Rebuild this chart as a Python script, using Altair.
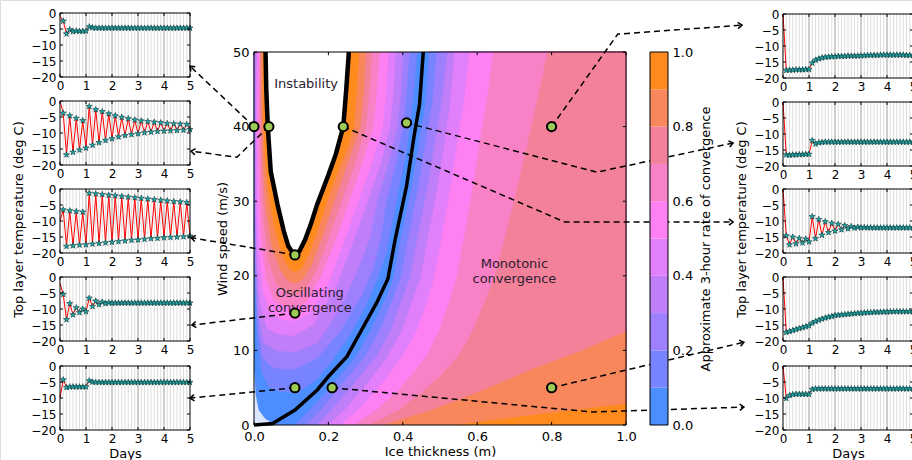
import math
import altair as alt
import pandas as pd

W, H = 912, 460
FONT = "DejaVu Sans"
STAR = ("M0,-1L0.235,-0.324L0.951,-0.309L0.38,0.124L0.588,0.809L0,0.4L-0.588,0.809"
        "L-0.38,0.124L-0.951,-0.309L-0.235,-0.324Z")
TICK_UP, TICK_DOWN, TICK_RIGHT, TICK_LEFT = "M0,0L0,-1", "M0,0L0,1", "M0,0L1,0", "M0,0L-1,0"

# ---------------- time-series data (3-hourly, 5 days) ----------------
days = [i * 0.125 for i in range(41)]
grid_days = [i * 0.125 for i in range(1, 40)]
day_lines = [1, 2, 3, 4]
day_ticks = [0, 1, 2, 3, 4, 5]
temp_ticks = [0, -5, -10, -15, -20]

L1 = [-1.0, -2.5, -6.5, -5.2, -5.8, -5.6, -5.7, -5.7, -5.6, -4.3, -4.6,
      -4.7, -4.7, -4.7, -4.7, -4.7, -4.7, -4.7, -4.7, -4.7, -4.7,
      -4.7, -4.7, -4.7, -4.7, -4.7, -4.7, -4.7, -4.7, -4.7, -4.7,
      -4.7, -4.7, -4.7, -4.7, -4.7, -4.7, -4.7, -4.7, -4.7, -4.7]
L2 = [0.0, -3.8, -16.8, -4.6, -16.0, -5.4, -15.3, -6.1, -14.7,
      -1.7, -13.8, -2.7, -13.0, -3.3, -12.3, -4.0, -11.8,
      -4.6, -11.2, -5.1, -10.8, -5.5, -10.5, -5.9, -10.2,
      -6.2, -9.9, -6.4, -9.7, -6.6, -9.5, -6.8, -9.4,
      -7.0, -9.3, -7.1, -9.2, -7.2, -9.1, -7.3, -8.9]
L3 = [-10.0, -6.5, -17.9, -6.8, -17.7, -7.0, -17.5, -7.2, -17.4,
      -1.3, -17.2, -1.5, -17.0, -1.7, -16.8, -1.9, -16.6,
      -2.1, -16.4, -2.3, -16.2, -2.5, -16.0, -2.7, -15.9,
      -2.9, -15.7, -3.1, -15.5, -3.3, -15.4, -3.5, -15.2,
      -3.7, -15.1, -3.9, -15.0, -4.0, -14.9, -4.2, -14.7]
L4 = [-2.0, -5.4, -13.3, -8.3, -11.8, -9.6, -11.1, -10.0, -10.8,
      -6.6, -9.2, -7.5, -8.6, -7.8, -8.3, -8.0, -8.2,
      -8.1, -8.1, -8.1, -8.1, -8.1, -8.1, -8.1, -8.1,
      -8.1, -8.1, -8.1, -8.1, -8.1, -8.1, -8.1, -8.1,
      -8.1, -8.1, -8.1, -8.1, -8.1, -8.1, -8.1, -8.1]
L5 = [-10.0, -4.3, -6.7, -6.5, -6.5, -6.5, -6.5, -6.5, -6.5,
      -4.6, -5.0, -5.1, -5.1, -5.1, -5.1, -5.1, -5.1,
      -5.1, -5.1, -5.1, -5.1, -5.1, -5.1, -5.1, -5.1,
      -5.1, -5.1, -5.1, -5.1, -5.1, -5.1, -5.1, -5.1,
      -5.1, -5.1, -5.1, -5.1, -5.1, -5.1, -5.1, -5.1]
R1 = [0.0, -17.6, -17.5, -17.5, -17.4, -17.4, -17.4, -17.3, -17.3,
      -15.3, -14.4, -14.0, -13.7, -13.5, -13.4, -13.3, -13.3,
      -13.2, -13.2, -13.2, -13.1, -13.1, -13.1, -13.1, -13.0,
      -13.0, -12.9, -12.9, -12.9, -12.9, -12.8, -12.8, -12.8,
      -12.8, -12.8, -12.8, -12.8, -12.8, -12.9, -12.9, -12.9]
R2 = [0.0, -16.5, -16.6, -16.5, -16.5, -16.4, -16.4, -16.3, -16.3,
      -12.0, -13.1, -12.7, -12.6, -12.5, -12.5, -12.5, -12.5,
      -12.5, -12.5, -12.5, -12.5, -12.5, -12.5, -12.5, -12.5,
      -12.5, -12.5, -12.5, -12.5, -12.5, -12.5, -12.5, -12.5,
      -12.5, -12.5, -12.5, -12.5, -12.5, -12.5, -12.5, -12.5]
R3 = [0.0, -14.6, -17.4, -15.0, -17.1, -15.4, -16.8, -15.6, -16.5,
      -8.6, -15.5, -9.5, -14.4, -10.2, -13.6, -10.7, -13.1,
      -11.0, -12.7, -11.4, -12.4, -11.7, -12.2, -11.9, -12.1,
      -12.0, -12.1, -12.1, -12.1, -12.1, -12.1, -12.1, -12.1,
      -12.1, -12.1, -12.1, -12.1, -12.1, -12.1, -12.1, -12.1]
R4 = [0.0, -17.3, -17.0, -16.7, -16.4, -16.1, -15.8, -15.5, -15.2,
      -14.4, -13.9, -13.5, -13.1, -12.8, -12.5, -12.3, -12.0,
      -11.9, -11.8, -11.7, -11.6, -11.5, -11.4, -11.3, -11.25,
      -11.2, -11.1, -11.1, -11.0, -11.0, -10.95, -10.9, -10.9,
      -10.85, -10.8, -10.8, -10.8, -10.8, -10.8, -10.8, -10.8]
R5 = [0.0, -10.1, -9.2, -8.9, -8.8, -8.8, -8.8, -8.8, -8.8,
      -7.3, -7.1, -7.1, -7.1, -7.1, -7.1, -7.1, -7.1,
      -7.1, -7.1, -7.1, -7.1, -7.1, -7.1, -7.1, -7.1,
      -7.1, -7.1, -7.1, -7.1, -7.1, -7.1, -7.1, -7.1,
      -7.1, -7.1, -7.1, -7.1, -7.1, -7.1, -7.1, -7.1]

# ---------------- convergence-rate map (contours) ----------------
band_lo = [0.0, 0.1, 0.2, 0.3, 0.4, 0.5, 0.6, 0.7, 0.8, 0.9]
band_colors = ["#4c8dff", "#7884ff", "#9e80ff", "#c07ef8", "#e27ffa",
               "#ff80f2", "#f981c6", "#f4819a", "#f8875c", "#ff8b1e"]
thick_ticks = [0, 0.2, 0.4, 0.6, 0.8, 1.0]
wind_ticks = [0, 10, 20, 30, 40, 50]

zero_curve = [(0.0, 0.0), (0.05, 0.2), (0.11, 2.0), (0.17, 4.7), (0.20, 6.5), (0.25, 9.2),
              (0.29, 12.8), (0.33, 16.4), (0.36, 19.6), (0.38, 25.0), (0.41, 32.0),
              (0.43, 38.6), (0.445, 43.0), (0.455, 50.0)]
instab_curve = [(0.031, 50), (0.033, 45), (0.037, 40), (0.045, 34), (0.063, 29.6), (0.08, 26),
                (0.092, 24), (0.108, 22.8), (0.122, 23.3), (0.137, 24.8), (0.152, 26.8),
                (0.17, 29.6), (0.20, 33.5), (0.22, 36.3), (0.24, 40), (0.248, 45), (0.255, 50)]
speckle = [(0.0, 0.0), (0.0, 7.0), (0.004, 4.0), (0.012, 2.0), (0.03, 0.8), (0.05, 0.2), (0.05, 0.0)]

osc = {
    1: [(0.0, 50), (0.0, 26), (0.004, 18), (0.01, 11), (0.022, 7), (0.04, 5.2), (0.07, 4.5),
        (0.1, 4.4), (0.13, 4.8), (0.17, 6.2), (0.215, 9), (0.26, 12.3), (0.3, 16), (0.33, 19.5),
        (0.355, 23), (0.375, 28), (0.39, 32), (0.41, 37), (0.42, 41), (0.43, 45), (0.437, 50)],
    2: [(0.0, 50), (0.0, 38), (0.002, 30), (0.005, 20), (0.012, 13), (0.025, 9), (0.05, 7.7),
        (0.08, 7.5), (0.11, 7.5), (0.17, 9), (0.23, 12.5), (0.29, 17.5), (0.32, 21), (0.34, 25),
        (0.355, 30), (0.38, 35), (0.40, 40), (0.41, 45), (0.417, 50)],
    3: [(0.0, 50), (0.0, 47), (0.004, 40), (0.004, 30), (0.006, 22), (0.012, 15), (0.027, 11),
        (0.06, 10), (0.11, 9.8), (0.17, 11), (0.23, 15.5), (0.28, 21), (0.31, 25), (0.33, 30),
        (0.36, 35), (0.385, 40), (0.395, 45), (0.40, 50)],
    4: [(0.008, 50), (0.006, 40), (0.006, 30), (0.009, 22), (0.018, 16), (0.035, 13), (0.065, 12.2),
        (0.11, 12), (0.16, 13.5), (0.22, 18.5), (0.265, 24.5), (0.305, 30), (0.34, 35), (0.365, 40),
        (0.375, 45), (0.38, 50)],
    5: [(0.011, 50), (0.009, 40), (0.01, 31), (0.014, 24), (0.025, 18), (0.045, 15), (0.075, 14.2),
        (0.11, 14), (0.15, 15), (0.2, 19), (0.24, 24.5), (0.28, 30), (0.315, 35), (0.345, 40),
        (0.355, 45), (0.36, 50)],
    6: [(0.014, 50), (0.013, 40), (0.015, 32), (0.02, 25), (0.033, 19.5), (0.055, 16.6), (0.08, 16),
        (0.11, 15.8), (0.14, 16.5), (0.18, 20), (0.22, 25), (0.255, 30), (0.29, 35), (0.32, 40),
        (0.33, 45), (0.337, 50)],
    7: [(0.017, 50), (0.017, 42), (0.02, 34), (0.027, 27), (0.04, 22), (0.06, 19), (0.085, 17.8),
        (0.11, 17.5), (0.135, 18), (0.165, 20.5), (0.2, 25), (0.235, 30), (0.27, 35), (0.3, 40),
        (0.31, 45), (0.317, 50)],
    8: [(0.02, 50), (0.021, 42), (0.025, 35), (0.033, 29), (0.048, 24), (0.07, 21), (0.09, 19.4),
        (0.11, 19), (0.13, 19.5), (0.155, 21.5), (0.185, 25.5), (0.215, 30), (0.25, 35),
        (0.285, 40), (0.295, 45), (0.30, 50)],
    9: [(0.024, 50), (0.025, 42), (0.03, 36), (0.04, 31), (0.055, 26.5), (0.075, 23), (0.095, 21),
        (0.11, 20.5), (0.128, 21), (0.148, 23), (0.17, 26), (0.196, 30), (0.225, 34), (0.25, 37),
        (0.268, 40), (0.276, 45), (0.282, 50)],
}
mono = {
    1: [(0.11, 0), (0.15, 2), (0.2, 4.7), (0.23, 6.5), (0.275, 9.2), (0.315, 12.8), (0.35, 16.4),
        (0.375, 19.6), (0.395, 25), (0.425, 32), (0.447, 38.6), (0.462, 43), (0.472, 50)],
    2: [(0.14, 0), (0.18, 2), (0.225, 4.7), (0.255, 6.5), (0.3, 9.2), (0.34, 12.8), (0.37, 16.4),
        (0.395, 19.6), (0.415, 25), (0.443, 32), (0.465, 38.6), (0.48, 43), (0.492, 50)],
    3: [(0.17, 0), (0.21, 2), (0.255, 4.7), (0.285, 6.5), (0.33, 9.2), (0.37, 12.8), (0.395, 16.4),
        (0.42, 19.6), (0.44, 25), (0.468, 32), (0.49, 38.6), (0.505, 43), (0.52, 50)],
    4: [(0.2, 0), (0.245, 2), (0.29, 4.7), (0.32, 6.5), (0.36, 9.2), (0.4, 12.8), (0.425, 16.4),
        (0.448, 19.6), (0.468, 25), (0.495, 32), (0.515, 38.6), (0.528, 43), (0.54, 50)],
    5: [(0.235, 0), (0.28, 2), (0.33, 4.7), (0.36, 6.5), (0.40, 9.2), (0.44, 12.8), (0.465, 16.4),
        (0.485, 19.6), (0.505, 25), (0.53, 32), (0.55, 38.6), (0.565, 43), (0.58, 50)],
    6: [(0.27, 0), (0.33, 2), (0.39, 4.7), (0.42, 6.5), (0.465, 9.2), (0.5, 12.8), (0.525, 16.4),
        (0.545, 19.6), (0.565, 25), (0.59, 32), (0.61, 38.6), (0.625, 43), (0.645, 50)],
    7: [(0.31, 0), (0.39, 2), (0.46, 4.7), (0.5, 6.5), (0.55, 9.2), (0.59, 12.8), (0.62, 16.4),
        (0.645, 19.6), (0.675, 25), (0.71, 32), (0.74, 38.6), (0.76, 43), (0.79, 50)],
    8: [(0.35, 0), (0.48, 2), (0.62, 4.7), (0.75, 7.5), (0.87, 9.7), (1.0, 12.5)],
    9: [(0.55, 0), (0.75, 1.3), (1.0, 2.8)],
}

# sample points and the dashed connectors to the side panels
pt_h = [0.0, 0.04, 0.24, 0.41, 0.80, 0.11, 0.11, 0.11, 0.21, 0.80]
pt_u = [40.0, 40.0, 40.0, 40.5, 40.0, 22.8, 15.0, 5.0, 5.0, 5.0]
arrows = [
    [(0.0, 40.0), (-0.172, 48.1)],
    [(0.04, 40.0), (-0.046, 35.9), (-0.169, 36.7)],
    [(0.11, 22.8), (-0.169, 25.1)],
    [(0.11, 15.0), (-0.167, 13.4)],
    [(0.11, 5.0), (-0.172, 3.6)],
    [(0.8, 40.0), (0.978, 52.4), (1.312, 53.6)],
    [(0.41, 40.5), (0.922, 33.9), (1.288, 37.8)],
    [(0.24, 40.0), (0.836, 27.2), (1.288, 27.2)],
    [(0.8, 5.0), (1.317, 11.1)],
    [(0.21, 5.0), (0.909, 1.74), (1.317, 2.4)],
]

# ---------------- layout (pixel ranges of each panel) ----------------
LX = [60, 190]
RX = [783, 913]
LTOP = [13, 101, 189, 277, 366]
RTOP = [14, 102, 189, 277, 366]
PH = 64
CX = [254, 626]
CY = [425, 52]
BX = [650, 668]

AX_COMMON = dict(grid=False, domain=False, ticks=False, tickSize=0, labelFont=FONT,
                 labelColor="black", labelFlush=False, labelOverlap=False)
TITLE_COMMON = dict(titleFont=FONT, titleFontWeight="normal", titleColor="black",
                    titleFontSize=13, titleAlign="center", titleBaseline="middle")


def enc(xf, yf, xs, ys, xa, ya, **extra):
    return dict(x=alt.X(xf, scale=xs, axis=xa), y=alt.Y(yf, scale=ys, axis=ya), **extra)


def tick_layers(xs, ys, xa, ya, xvals, yvals, xlo, xhi, ylo, yhi, size):
    out = []
    specs = [
        (pd.DataFrame({"p": xvals, "q": ylo}), TICK_UP),
        (pd.DataFrame({"p": xvals, "q": yhi}), TICK_DOWN),
        (pd.DataFrame({"p": xlo, "q": yvals}), TICK_RIGHT),
        (pd.DataFrame({"p": xhi, "q": yvals}), TICK_LEFT),
    ]
    for df, shp in specs:
        out.append(alt.Chart(df).mark_point(shape=shp, filled=False, stroke="black",
                                            strokeWidth=1, size=size, opacity=1).encode(
            **enc("p:Q", "q:Q", xs, ys, xa, ya)))
    return out


def ts_panel(vals, xr, top, ytitle, xtitle):
    bottom = top + PH
    xs = alt.Scale(domain=[0, 5], range=xr, nice=False, zero=False)
    ys = alt.Scale(domain=[-20, 0], range=[bottom, top], nice=False, zero=False)
    xkw = dict(orient="bottom", offset=bottom - H, values=day_ticks, labelPadding=3,
               labelFontSize=12, **AX_COMMON)
    if xtitle:
        xkw.update(title=xtitle, titleX=(xr[0] + xr[1]) / 2, titleY=23, **TITLE_COMMON)
    else:
        xkw.update(title="")
    ykw = dict(orient="left", offset=-xr[0], values=temp_ticks, labelPadding=4,
               labelFontSize=12, **AX_COMMON)
    if ytitle:
        ykw.update(title=ytitle, titleX=-42, titleY=219, titleAngle=270, **TITLE_COMMON)
    else:
        ykw.update(title="")
    xa, ya = alt.Axis(**xkw), alt.Axis(**ykw)
    df = pd.DataFrame({"t": days, "T": vals})
    grid = alt.Chart(pd.DataFrame({"g": grid_days, "lo": -20.0, "hi": 0.0})).mark_rule(
        color="#d6d6d6", strokeWidth=0.8).encode(**enc("g:Q", "lo:Q", xs, ys, xa, ya, y2="hi:Q"))
    major = alt.Chart(pd.DataFrame({"g": day_lines, "lo": -20.0, "hi": 0.0})).mark_rule(
        color="#a0a0a0", strokeWidth=0.8).encode(**enc("g:Q", "lo:Q", xs, ys, xa, ya, y2="hi:Q"))
    line = alt.Chart(df).mark_line(color="#ff0000", strokeWidth=1).encode(
        **enc("t:Q", "T:Q", xs, ys, xa, ya))
    pts = alt.Chart(df.iloc[1:].reset_index(drop=True)).mark_point(
        shape=STAR, filled=True, fill="#1fa9a9", stroke="#053535", strokeWidth=0.6, size=40,
        opacity=1).encode(**enc("t:Q", "T:Q", xs, ys, xa, ya))
    frame = alt.Chart(pd.DataFrame({"a": [0.0], "b": [5.0], "c": [-20.0], "d": [0.0]})).mark_rect(
        fill="transparent", stroke="black", strokeWidth=1).encode(
        **enc("a:Q", "c:Q", xs, ys, xa, ya, x2="b:Q", y2="d:Q"))
    ticks = tick_layers(xs, ys, xa, ya, day_ticks, temp_ticks, 0.0, 5.0, -20.0, 0.0, 36)
    return alt.layer(grid, major, line, pts, frame, *ticks)


panels = []
left_vals = [L1, L2, L3, L4, L5]
right_vals = [R1, R2, R3, R4, R5]
for i in range(5):
    panels.append(ts_panel(left_vals[i], LX, LTOP[i],
                           "Top layer temperature (deg C)" if i == 2 else None,
                           "Days" if i == 4 else None))
for i in range(5):
    panels.append(ts_panel(right_vals[i], RX, RTOP[i],
                           "Top layer temperature (deg C)" if i == 2 else None,
                           "Days" if i == 4 else None))

# ---------------- centre map ----------------
cx = alt.Scale(domain=[0, 1], range=CX, nice=False, zero=False)
cy = alt.Scale(domain=[0, 50], range=CY, nice=False, zero=False)
caxx = alt.Axis(orient="bottom", offset=CY[0] - H, values=thick_ticks, format=".1f",
                labelPadding=5, labelFontSize=13, title="Ice thickness (m)",
                titleX=(CX[0] + CX[1]) / 2, titleY=26.5, **AX_COMMON, **TITLE_COMMON)
caxy = alt.Axis(orient="left", offset=-CX[0], values=wind_ticks, labelPadding=5,
                labelFontSize=13, title="Wind speed (m/s)", titleX=-32,
                titleY=(CY[0] + CY[1]) / 2, titleAngle=270, **AX_COMMON, **TITLE_COMMON)


def cenc(xf, yf, **extra):
    return enc(xf, yf, cx, cy, caxx, caxy, **extra)


rect1 = pd.DataFrame({"a": [0.0], "b": [1.0], "c": [0.0], "d": [50.0]})
center_layers = [alt.Chart(rect1).mark_rect(color=band_colors[0]).encode(
    **cenc("a:Q", "c:Q", x2="b:Q", y2="d:Q"))]


def poly_rows(pid, pts):
    return [{"pid": pid, "k": k, "h": h, "u": u} for k, (h, u) in enumerate(pts)]


for lev in range(1, 10):
    rows = poly_rows("osc", osc[lev])
    mpts = list(mono[lev])
    if mpts[-1][1] >= 50:
        mpts = mpts + [(1.0, 50.0), (1.0, 0.0)]
    else:
        mpts = mpts + [(1.0, 0.0)]
    rows += poly_rows("mono", mpts)
    col = band_colors[lev]
    center_layers.append(
        alt.Chart(pd.DataFrame(rows)).mark_line(fill=col, stroke=col, strokeWidth=0.8,
                                                strokeJoin="round").encode(
            **cenc("h:Q", "u:Q", detail="pid:N", order="k:Q")))

inst_df = pd.DataFrame(poly_rows("inst", instab_curve))
center_layers.append(alt.Chart(inst_df).mark_line(fill="white", stroke="white", strokeWidth=0.5).encode(
    **cenc("h:Q", "u:Q", order="k:Q")))
center_layers.append(alt.Chart(pd.DataFrame(poly_rows("sp", speckle))).mark_line(
    fill="#dde8ff", stroke="#dde8ff", strokeWidth=0.5).encode(**cenc("h:Q", "u:Q", order="k:Q")))
center_layers.append(alt.Chart(inst_df).mark_line(color="black", strokeWidth=4.5).encode(
    **cenc("h:Q", "u:Q", order="k:Q")))
center_layers.append(alt.Chart(pd.DataFrame(poly_rows("zero", zero_curve))).mark_line(
    color="black", strokeWidth=3.5).encode(**cenc("h:Q", "u:Q", order="k:Q")))
center_layers.append(alt.Chart(rect1).mark_rect(fill="transparent", stroke="black", strokeWidth=1).encode(
    **cenc("a:Q", "c:Q", x2="b:Q", y2="d:Q")))
center_layers += tick_layers(cx, cy, caxx, caxy, thick_ticks, wind_ticks, 0.0, 1.0, 0.0, 50.0, 40)

labels = pd.DataFrame({"h": [0.14, 0.15, 0.70], "u": [45.7, 17.7, 21.6],
                       "txt": ["Instability", "Oscillating\nconvergence", "Monotonic\nconvergence"]})
center_layers.append(alt.Chart(labels).mark_text(font=FONT, fontSize=13, color="#2a2030",
                                                 lineBreak="\n", lineHeight=15).encode(
    **cenc("h:Q", "u:Q", text="txt:N")))

# dashed connectors
PXH = (CX[1] - CX[0]) / 1.0
PXU = (CY[0] - CY[1]) / 50.0
arow, hrow = [], []
for ai, pts in enumerate(arrows):
    for k, (h, u) in enumerate(pts):
        arow.append({"aid": ai, "k": k, "h": h, "u": u})
    (h0, u0), (h1, u1) = pts[-2], pts[-1]
    ang = math.degrees(math.atan2(-(u1 - u0) * PXU, (h1 - h0) * PXH)) % 360
    hrow.append({"h": h1, "u": u1, "ang": ang})
center_layers.append(alt.Chart(pd.DataFrame(arow)).mark_line(
    color="black", strokeWidth=1.5, strokeDash=[6, 4]).encode(
    **cenc("h:Q", "u:Q", detail="aid:N", order="k:Q")))
center_layers.append(alt.Chart(pd.DataFrame(hrow)).mark_point(
    shape="M-1,-0.75L0,0L-1,0.75", filled=False, stroke="black", strokeWidth=1.5,
    size=70, opacity=1).encode(**cenc("h:Q", "u:Q", angle=alt.Angle("ang:Q", scale=None))))
center_layers.append(alt.Chart(pd.DataFrame({"h": pt_h, "u": pt_u})).mark_point(
    shape="circle", filled=True, fill="#9dcb55", stroke="black", strokeWidth=2, size=85,
    opacity=1).encode(**cenc("h:Q", "u:Q")))

center = alt.layer(*center_layers)

# ---------------- colour bar ----------------
bx = alt.Scale(domain=[0, 1], range=BX, nice=False, zero=False)
by = alt.Scale(domain=[0, 1], range=CY, nice=False, zero=False)
cb_df = pd.DataFrame({"a": 0.0, "b": 1.0, "lo": band_lo, "hi": [v + 0.1 for v in band_lo],
                      "col": band_colors})
cbaxis = alt.Axis(orient="right", offset=BX[1] - W, values=thick_ticks, format=".1f",
                  labelPadding=4, labelFontSize=13,
                  title="Approximate 3-hour rate of convergence", titleX=37,
                  titleY=(CY[0] + CY[1]) / 2, titleAngle=270, **AX_COMMON, **TITLE_COMMON)
cbar = alt.Chart(cb_df).mark_rect().encode(
    x=alt.X("a:Q", scale=bx, axis=None), x2="b:Q",
    y=alt.Y("lo:Q", scale=by, axis=cbaxis), y2="hi:Q",
    color=alt.Color("col:N", scale=None))
cbframe = alt.Chart(pd.DataFrame({"a": [0.0], "b": [1.0], "c": [0.0], "d": [1.0]})).mark_rect(
    fill="transparent", stroke="black", strokeWidth=1).encode(
    x=alt.X("a:Q", scale=bx, axis=None), x2="b:Q",
    y=alt.Y("c:Q", scale=by, axis=cbaxis), y2="d:Q")
colorbar = alt.layer(cbar, cbframe)

chart = alt.layer(*panels, center, colorbar).resolve_scale(
    x="independent", y="independent").properties(
    width=W, height=H, padding=0, autosize=alt.AutoSizeParams(type="none")).configure_view(
    stroke=None).configure(font=FONT)

chart.save("out.html", embed_options={"renderer": "svg", "actions": False})
